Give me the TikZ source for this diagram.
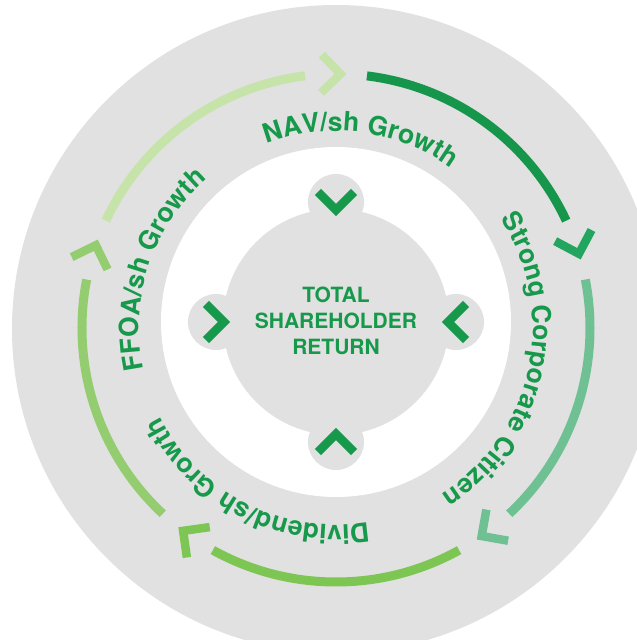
\documentclass[tikz,border=0pt]{standalone}
\usepackage{fontspec}
\setmainfont{TeX Gyre Heros}
\usetikzlibrary{calc,decorations.text}

\definecolor{ringgrey}{HTML}{E1E1E1}
\definecolor{txtgreen}{HTML}{17994B}
\definecolor{navgreen}{HTML}{16964A}
\definecolor{navchev}{HTML}{22A55E}
\definecolor{citgreen}{HTML}{6FC194}
\definecolor{divgreen}{HTML}{7EC654}
\definecolor{ffoagreen}{HTML}{93CD6F}
\definecolor{topgreen}{HTML}{C6E4AA}

\newcommand\ringfont{\fontsize{26.5}{30}\selectfont\bfseries}
\newcommand\hubfont{\fontsize{21}{26}\selectfont\bfseries}

\begin{document}
\begin{tikzpicture}[x=1pt,y=1pt,
    ringarc/.style={line width=9pt},
    chevron/.style={line width=8.5pt, miter limit=10},
    ringtext/.style={decorate, decoration={text along path, text align=center, text color=txtgreen}},
 ]
    \useasboundingbox (-336,-312) rectangle (301,328);
    \clip (-336,-312) rectangle (301,328);
    \fill[white] (-336,-312) rectangle (301,328);
    \coordinate (O) at (0,0);
    \coordinate (H) at (0,6);

    % grey ring, white gap, hub
    \fill[ringgrey] (0,-1) circle[radius=324];
    \fill[white] (H) circle[radius=175];
    \fill[ringgrey] (H) circle[radius=113];
    \foreach \a in {90,0,-90,180}
        \fill[ringgrey] ($(H)+(\a:120)$) circle[radius=28];
    \foreach \a in {90,0,-90,180}
        \draw[chevron, txtgreen] ($(H)+(\a:130)+(\a+90:18)$) -- ($(H)+(\a:112)$) -- ($(H)+(\a:130)+(\a-90:18)$);
    \node[font=\hubfont, text=txtgreen, align=center] (tsr) at (0,7) {TOTAL\\SHAREHOLDER\\RETURN};

    % outer arcs and chevrons
    \foreach \v/\c in {161/topgreen, 89/navgreen, 17/citgreen, -55/divgreen, -127/ffoagreen}
        \draw[ringarc, \c] (O) ++(\v-6:254) arc[start angle=\v-6, end angle=\v-64, radius=254];
    \foreach \v/\c in {89/topgreen, 17/navchev, -55/citgreen, -127/divgreen, 161/ffoagreen}
        \draw[chevron, \c, shift={(\v:254)}, rotate=\v-90] (-19,19) -- (0,0) -- (-19,-19);

    % labels on the ring
    \path[ringtext, decoration={text={|\ringfont|NAV/sh Growth}}]
        (O) ++(142.5:197) arc[start angle=142.5, end angle=22.5, radius=197];
    \path[ringtext, decoration={text={|\ringfont|Strong Corporate Citizen}}]
        (O) ++(50:197) arc[start angle=50, end angle=-74, radius=197];
    \path[ringtext, decoration={text={|\ringfont|Dividend/sh Growth}}]
        (O) ++(-57:197) arc[start angle=-57, end angle=-177, radius=197];
    \path[ringtext, decoration={text={|\ringfont|FFOA/sh Growth}}]
        (O) ++(221.5:197) arc[start angle=221.5, end angle=101.5, radius=197];
\end{tikzpicture}
\end{document}
